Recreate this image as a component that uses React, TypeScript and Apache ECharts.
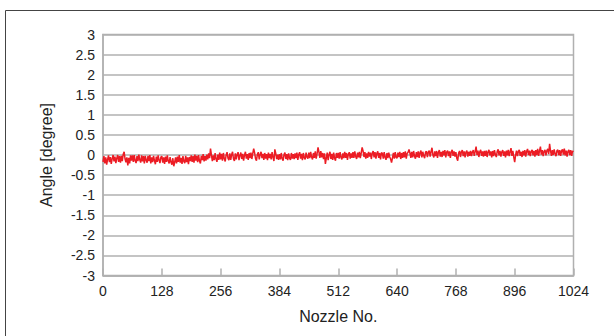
import React, { useEffect, useRef } from "react";
import * as echarts from "echarts";

// Nozzle numbers sampled every 2 nozzles, 0..1024
const nozzleStep = 2;
const xTicks = [0, 128, 256, 384, 512, 640, 768, 896, 1024];
const yTicks = [-3, -2.5, -2, -1.5, -1, -0.5, 0, 0.5, 1, 1.5, 2, 2.5, 3];

// Angle values [degree] (every 2 nozzles)
const a0 = [-0.17, -0.03, -0.21, -0.06, -0.24, -0.11, -0.01, -0.18, -0.05, -0.22, -0.09, 0.00, -0.16, -0.04, -0.20, -0.08];
const a1 = [0.00, -0.17, -0.03, -0.19, -0.02, -0.15, 0.02, 0.08, -0.10, -0.18, -0.06, -0.26, -0.07, -0.21, -0.01, -0.14];
const a2 = [-0.01, -0.17, 0.00, -0.14, -0.20, -0.03, -0.15, 0.01, -0.12, -0.19, -0.01, -0.16, -0.03, -0.21, -0.02, -0.13];
const a3 = [-0.19, -0.02, -0.15, 0.00, -0.21, -0.06, -0.18, -0.02, -0.14, -0.23, -0.04, -0.17, -0.01, -0.13, -0.20, -0.05];
const a4 = [-0.03, -0.19, -0.06, -0.22, -0.04, -0.17, -0.01, -0.15, -0.21, -0.05, -0.18, -0.24, -0.08, -0.28, -0.18, -0.06];
const a5 = [-0.21, -0.04, -0.17, 0.00, -0.19, -0.07, -0.22, -0.03, -0.16, -0.20, -0.02, -0.18, -0.06, -0.23, -0.05, -0.15];
const a6 = [-0.01, -0.17, -0.03, -0.19, 0.01, -0.14, -0.02, -0.18, 0.00, -0.15, -0.21, -0.02, -0.13, 0.02, -0.16, -0.03];
const a7 = [-0.14, 0.01, -0.11, 0.04, -0.08, 0.16, 0.00, -0.15, -0.01, -0.13, 0.05, -0.10, -0.17, 0.01, -0.12, 0.06];
const a8 = [-0.11, 0.03, -0.14, 0.05, -0.09, -0.16, 0.00, 0.07, -0.08, -0.13, 0.04, -0.12, 0.01, 0.08, -0.10, -0.15];
const a9 = [0.04, -0.11, 0.01, 0.07, -0.13, -0.01, 0.06, -0.10, 0.03, -0.14, 0.00, 0.08, -0.09, 0.02, -0.12, 0.05];
const a10 = [-0.08, 0.06, -0.10, 0.04, 0.16, 0.05, -0.09, -0.14, 0.02, 0.07, -0.11, 0.01, 0.08, -0.08, 0.03, -0.12];
const a11 = [0.05, -0.09, 0.02, -0.13, 0.06, -0.08, 0.03, -0.11, 0.07, -0.06, -0.15, 0.14, 0.04, -0.10, 0.01, -0.12];
const a12 = [0.02, -0.11, 0.05, -0.09, -0.14, 0.01, 0.06, -0.10, 0.02, -0.13, 0.04, -0.08, -0.12, 0.05, -0.09, 0.02];
const a13 = [-0.10, 0.04, -0.08, 0.06, -0.12, 0.01, 0.07, -0.09, 0.03, -0.13, 0.05, -0.07, -0.11, 0.06, -0.05, -0.09];
const a14 = [0.06, -0.08, 0.08, -0.05, -0.11, 0.05, -0.07, 0.09, -0.09, 0.04, 0.19, 0.07, -0.07, 0.10, -0.06, 0.05];
const a15 = [-0.10, 0.04, -0.22, -0.08, 0.06, -0.13, 0.01, 0.08, -0.10, 0.03, -0.12, 0.06, -0.08, -0.14, 0.05, -0.07];
const a16 = [0.05, -0.09, 0.07, -0.06, -0.11, 0.04, -0.08, 0.08, -0.07, 0.05, -0.12, 0.02, 0.07, -0.09, 0.04, -0.07];
const a17 = [0.07, -0.07, 0.09, -0.04, -0.10, 0.06, -0.06, 0.08, -0.08, 0.05, 0.19, 0.10, -0.05, 0.07, -0.09, 0.04];
const a18 = [-0.07, 0.08, -0.04, 0.06, -0.10, 0.05, 0.10, -0.06, 0.07, -0.09, 0.04, 0.09, -0.07, 0.05, -0.11, 0.06];
const a19 = [0.04, -0.09, 0.07, -0.06, -0.12, 0.05, -0.08, 0.06, -0.05, -0.10, -0.19, -0.07, 0.05, -0.09, 0.07, -0.06];
const a20 = [-0.08, 0.06, -0.05, 0.08, -0.10, 0.05, -0.07, 0.07, -0.06, 0.09, -0.09, 0.04, 0.07, 0.14, 0.05, -0.07];
const a21 = [0.08, -0.06, 0.10, -0.03, -0.09, 0.07, -0.05, 0.09, -0.07, 0.06, 0.11, -0.06, 0.08, -0.02, -0.08, 0.07];
const a22 = [0.09, -0.05, 0.07, 0.11, -0.04, 0.08, 0.18, 0.00, -0.06, 0.09, -0.03, 0.10, -0.07, 0.07, 0.12, -0.04];
const a23 = [0.08, -0.05, 0.10, -0.01, 0.12, -0.06, 0.07, 0.11, -0.03, 0.09, -0.07, 0.08, 0.13, -0.02, 0.09, -0.04];
const a24 = [0.07, -0.08, -0.14, 0.05, 0.10, -0.05, 0.08, 0.12, -0.03, 0.09, -0.06, 0.07, 0.11, -0.04, 0.08, -0.02];
const a25 = [0.10, -0.03, 0.08, 0.12, -0.02, 0.09, 0.21, 0.00, 0.11, -0.05, 0.08, 0.13, -0.02, 0.09, -0.04, 0.10];
const a26 = [-0.02, 0.11, -0.05, 0.08, 0.13, -0.01, 0.09, -0.06, 0.10, -0.03, 0.12, 0.01, -0.05, 0.09, 0.14, -0.01];
const a27 = [0.10, -0.04, 0.08, 0.12, -0.02, 0.09, -0.06, 0.11, -0.01, 0.13, -0.03, 0.08, 0.17, -0.02, 0.10, -0.05];
const a28 = [-0.18, 0.00, 0.11, -0.03, 0.09, 0.13, -0.02, 0.08, -0.05, 0.10, -0.01, 0.12, -0.04, 0.09, 0.15, 0.00];
const a29 = [0.11, -0.03, 0.09, 0.13, -0.01, 0.10, -0.04, 0.12, 0.00, 0.15, -0.02, 0.10, 0.21, 0.01, 0.12, -0.03];
const a30 = [0.09, 0.13, -0.01, 0.11, 0.15, 0.02, 0.28, 0.10, -0.02, 0.12, 0.00, 0.14, 0.03, -0.03, 0.11, 0.13];
const a31 = [0.00, 0.12, -0.02, 0.10, 0.14, 0.01, 0.16, -0.01, 0.11, -0.04, 0.09, 0.13, 0.00, 0.12, -0.02, 0.10];
const aLast = [0.08];

const angles = [
  ...a0, ...a1, ...a2, ...a3, ...a4, ...a5, ...a6, ...a7,
  ...a8, ...a9, ...a10, ...a11, ...a12, ...a13, ...a14, ...a15,
  ...a16, ...a17, ...a18, ...a19, ...a20, ...a21, ...a22, ...a23,
  ...a24, ...a25, ...a26, ...a27, ...a28, ...a29, ...a30, ...a31,
  ...aLast,
];

const FONT = "'Liberation Sans', Arial, sans-serif";

export default function App() {
  const ref = useRef<HTMLDivElement>(null);
  useEffect(() => {
    if (!ref.current) return;
    const chart = echarts.init(ref.current, null, { renderer: "svg" });
    const data = angles.map((v, i) => [i * nozzleStep, v]);
    chart.setOption({
      animation: false,
      backgroundColor: "#ffffff",
      textStyle: { fontFamily: FONT },
      graphic: [
        {
          type: "rect",
          shape: { x: 5.5, y: 10.5, width: 700, height: 400 },
          style: { fill: "none", stroke: "#444", lineWidth: 1 },
          silent: true,
        },
      ],
      grid: {
        left: 103,
        right: 40.5,
        top: 34.5,
        bottom: 60.5,
        show: true,
        borderColor: "#b0b0b0",
        borderWidth: 1.5,
        backgroundColor: "transparent",
      },
      xAxis: {
        type: "value",
        min: xTicks[0],
        max: xTicks[xTicks.length - 1],
        interval: 128,
        name: "Nozzle No.",
        nameLocation: "middle",
        nameGap: 33,
        nameTextStyle: { fontSize: 16, color: "#222", fontFamily: FONT },
        axisLine: { show: true, onZero: false, lineStyle: { color: "#b0b0b0", width: 1.5 } },
        axisTick: { show: true, inside: true, length: 7, lineStyle: { color: "#b0b0b0", width: 1.5 } },
        axisLabel: {
          fontSize: 14,
          color: "#222",
          margin: 8,
          fontFamily: FONT,
          formatter: (v: number) => String(v),
        },
        splitLine: { show: false },
      },
      yAxis: {
        type: "value",
        min: yTicks[0],
        max: yTicks[yTicks.length - 1],
        interval: 0.5,
        name: "Angle [degree]",
        nameLocation: "middle",
        nameGap: 49,
        nameTextStyle: { fontSize: 16, color: "#222", fontFamily: FONT },
        axisLine: { show: true, onZero: false, lineStyle: { color: "#b0b0b0", width: 1.5 } },
        axisTick: { show: false },
        axisLabel: { fontSize: 14, color: "#222", margin: 8, fontFamily: FONT, formatter: (v: number) => String(v) },
        splitLine: { show: true, lineStyle: { color: "#b0b0b0", width: 1.5 } },
      },
      series: [
        {
          type: "line",
          data,
          showSymbol: false,
          symbol: "none",
          lineStyle: { color: "#ec1c24", width: 1.5 },
        },
      ],
    });
    return () => chart.dispose();
  }, []);
  return <div ref={ref} style={{ width: 614, height: 336, position: "absolute", left: 0, top: 0 }} />;
}
